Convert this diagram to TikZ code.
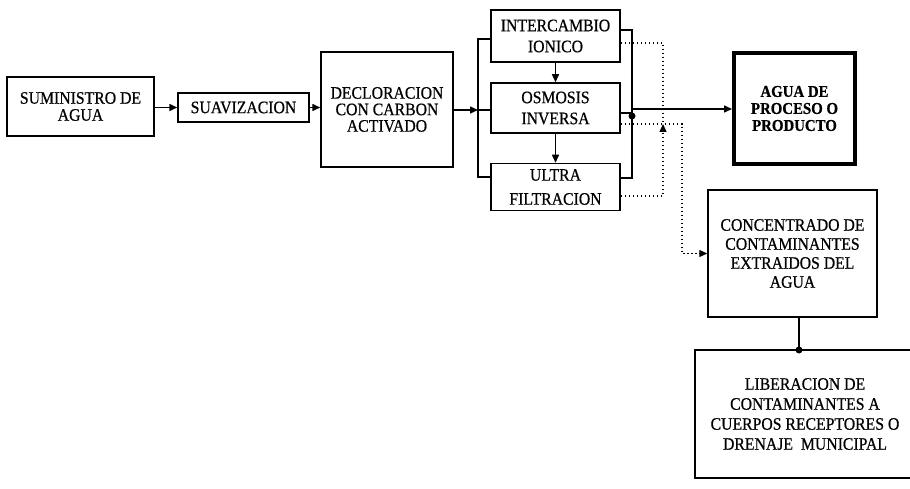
\documentclass[tikz,border=0pt]{standalone}
\usepackage{fontspec}
\setmainfont[FakeStretch=0.9,FakeBold=0.6]{Liberation Serif}
\usetikzlibrary{arrows.meta,calc}
\begin{document}
\begin{tikzpicture}[x=1pt,y=-1pt,
  box/.style={draw,line width=1.5pt,rectangle,inner sep=0pt,align=center,
    font=\fontsize{17.5}{17}\selectfont},
  conn/.style={line width=1.5pt},
  arr/.style={line width=1.5pt,-{Triangle[length=8pt,width=7pt]}},
  dots/.style={line width=1.3pt,dash pattern=on 1.4pt off 2.6pt},
  darr/.style={dots,-{Triangle[length=8pt,width=7pt]}},
  jdot/.style={circle,fill,inner sep=0pt,minimum size=7pt}]
\useasboundingbox (0,0) rectangle (910,489);
\fill[white] (0,0) rectangle (910,489);
\begin{scope}
\clip (0,0) rectangle (910,489);
\node[box,minimum width=147pt,minimum height=59pt] (sum) at (80.5,106.5) {SUMINISTRO DE\\AGUA};
\node[box,minimum width=131pt,minimum height=29pt] (suav) at (243.5,107.5) {SUAVIZACION};
\node[box,minimum width=132pt,minimum height=115pt,font=\fontsize{17.5}{16.5}\selectfont] (decl) at (387,109.5) {DECLORACION\\CON CARBON\\ACTIVADO};
\node[box,minimum width=129pt,minimum height=52pt,font=\fontsize{17.5}{21}\selectfont] (inter) at (555.5,36) {INTERCAMBIO\\IONICO};
\node[box,minimum width=129pt,minimum height=50pt,font=\fontsize{17.5}{21}\selectfont] (osm) at (555.5,108) {OSMOSIS\\INVERSA};
\node[box,minimum width=129pt,minimum height=47pt,font=\fontsize{17.5}{24}\selectfont] (ultra) at (555.5,187) {ULTRA\\FILTRACION};
\node[box,line width=4pt,minimum width=121pt,minimum height=111pt,font=\bfseries\fontsize{16.5}{17}\selectfont] (agua) at (794.5,108.5) {AGUA DE\\PROCESO O\\PRODUCTO};
\node[box,minimum width=169pt,minimum height=127pt,font=\fontsize{17.5}{19}\selectfont] (conc) at (792.5,253.5) {CONCENTRADO DE\\CONTAMINANTES\\EXTRAIDOS DEL\\AGUA};
\node[box,minimum width=220pt,minimum height=128pt,font=\fontsize{17.5}{20}\selectfont] (lib) at (805,414) {LIBERACION DE\\CONTAMINANTES A\\CUERPOS RECEPTORES O\\DRENAJE\ \ MUNICIPAL};
\end{scope}
% coordinates
\coordinate (bl) at (478,110);
\coordinate (bltop) at (478,39);
\coordinate (blbot) at (478,177);
\coordinate (brtop) at (632,30);
\coordinate (brbot) at (632,178);
\coordinate (brmid) at (632,113);
\coordinate (brout) at (632,109);
\coordinate (bdot) at (632,116);
\coordinate (dtop) at (663,43);
\coordinate (dmeet) at (663,124);
\coordinate (dbot) at (663,196);
\coordinate (dr) at (682,124);
\coordinate (drb) at (682,253.5);
\coordinate (dl) at (799,350);
% solid connectors
\draw[arr] (sum.east |- suav.west) -- (suav.west);
\draw[arr] (suav.east) -- (suav.east -| decl.west);
\draw[arr] (decl.east |- bl) -- (bl);
\draw[conn] (bl) -- (osm.west |- bl);
\draw[conn] (inter.west |- bltop) -- (bltop) -- (blbot) -- (ultra.west |- blbot);
\draw[arr] (inter.south) -- (osm.north);
\draw[arr] (osm.south) -- (ultra.north);
\draw[conn] (inter.east |- brtop) -- (brtop) -- (brbot) -- (ultra.east |- brbot);
\draw[conn] (osm.east |- brmid) -- (brmid);
\node[jdot] (jd) at (bdot) {};
\draw[arr] (brout) -- (brout -| agua.west);
% dotted connectors
\draw[dots] (inter.east |- dtop) -- (dtop) -- (dmeet);
\draw[darr] (ultra.east |- dbot) -- (dbot) -- (dmeet);
\draw[darr] (osm.east |- dr) -- (dr) -- (drb) -- (drb -| conc.west);
% concentrate to release
\draw[conn] (dl |- conc.south) -- (dl);
\node[jdot] (ld) at (dl) {};
\end{tikzpicture}
\end{document}
